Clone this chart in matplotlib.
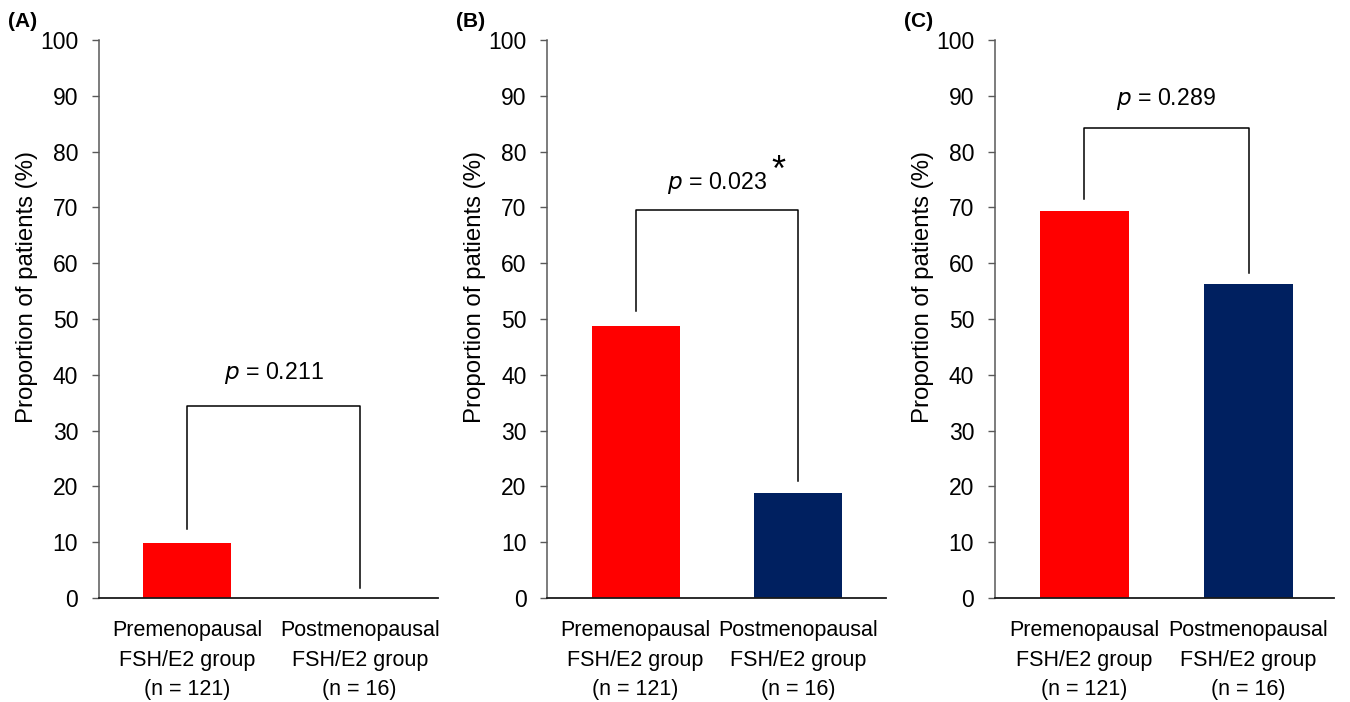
import matplotlib
matplotlib.use("Agg")
import matplotlib.pyplot as plt

plt.rcParams['font.family'] = ['Liberation Sans', 'DejaVu Sans']

categories = ["Premenopausal\nFSH/E2 group\n(n = 121)", "Postmenopausal\nFSH/E2 group\n(n = 16)"]
panel_labels = ["(A)", "(B)", "(C)"]
pre_values = [9.9, 48.8, 69.4]
post_values = [0.0, 18.75, 56.25]
p_texts = ["0.211", "0.023", "0.289"]
significant = [False, True, False]
# bracket: left leg bottom, top, right leg bottom, label y
bracket_left = [12.3, 51.4, 71.5]
bracket_top = [34.4, 69.5, 84.2]
bracket_right = [1.9, 21.0, 58.3]
label_y = [40.3, 74.3, 89.4]

colors = ["#FF0000", "#002060"]

fig = plt.figure(figsize=(13.5, 7.02), dpi=100)
lefts = [0.0733, 0.4054, 0.737]
width = 0.251
bottom = 0.148
height = 0.795
xlims = [(-0.512, 1.453), (-0.542, 1.539), (-0.542, 1.518)]
bar_widths = [0.512, 0.54, 0.54]

for i in range(3):
    ax = fig.add_axes([lefts[i], bottom, width, height])
    ax.bar([0, 1], [pre_values[i], post_values[i]], width=bar_widths[i], color=colors, zorder=2)
    ax.set_xlim(*xlims[i])
    ax.set_ylim(0, 100)
    ax.set_yticks(range(0, 101, 10))
    ax.set_xticks([0, 1])
    ax.set_xticklabels(categories, fontsize=15.5, linespacing=1.52)
    ax.tick_params(axis='x', length=0, pad=16)
    ax.tick_params(axis='y', length=5, width=1, color='#595959', labelsize=16.5, pad=10)
    for s in ['top', 'right']:
        ax.spines[s].set_visible(False)
    ax.spines['left'].set_color('#595959')
    ax.spines['left'].set_linewidth(1.1)
    ax.spines['bottom'].set_color('#1a1a1a')
    ax.spines['bottom'].set_linewidth(1.3)
    ax.set_ylabel("Proportion of patients (%)", fontsize=17.3)
    ax.yaxis.set_label_coords(-0.180, 0.557)
    # bracket
    ax.plot([0, 0, 1, 1], [bracket_left[i], bracket_top[i], bracket_top[i], bracket_right[i]],
            color='black', lw=1.1, zorder=3)
    ax.text(0.5, label_y[i], r"$\it{p}$ = " + p_texts[i], ha='center', va='center', fontsize=16.7)
    if significant[i]:
        ax.text(0.875, 76.5, "*", ha='center', va='center', fontsize=26)
    fig.text(lefts[i] - 0.0675, 0.970, panel_labels[i], ha='left', va='center',
             fontsize=15, fontweight='bold')

fig.savefig("out.png", dpi=100)
